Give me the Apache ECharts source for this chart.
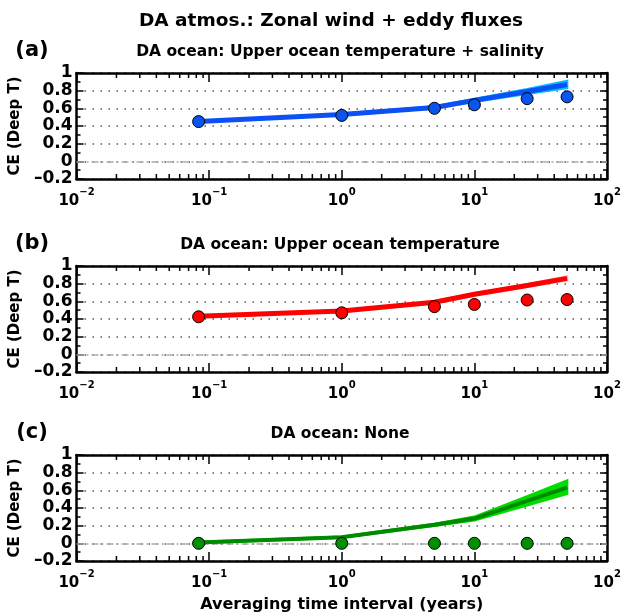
<!DOCTYPE html>
<html><head><meta charset="utf-8">
<script src="https://cdn.jsdelivr.net/npm/echarts@6/dist/echarts.min.js"></script>
<style>html,body{margin:0;padding:0;background:#fff}#c{width:624px;height:616px}</style>
</head><body><div id="c"></div>
<script>
// ---- data ----
const xVals = [1/12, 1, 5, 10, 25, 50];           // averaging interval (years)
const ptsA  = [0.45, 0.52, 0.60, 0.64, 0.71, 0.73];
const meanA = [0.45, 0.53, 0.61, 0.69, 0.79, 0.87];
const loA   = [0.445, 0.525, 0.60, 0.675, 0.765, 0.83];
const hiA   = [0.455, 0.535, 0.62, 0.705, 0.815, 0.91];
const ptsB  = [0.425, 0.47, 0.54, 0.565, 0.615, 0.62];
const meanB = [0.43, 0.49, 0.59, 0.68, 0.78, 0.86];
const loB   = [0.425, 0.485, 0.58, 0.67, 0.765, 0.84];
const hiB   = [0.435, 0.495, 0.60, 0.69, 0.795, 0.88];
const ptsC  = [0.0, 0.0, 0.0, 0.0, 0.0, 0.0];
const meanC = [0.01, 0.07, 0.21, 0.28, 0.48, 0.63];
const loC   = [0.005, 0.065, 0.20, 0.26, 0.43, 0.56];
const hiC   = [0.015, 0.075, 0.22, 0.30, 0.53, 0.71];
const minorXTicks = [];
[-2, -1, 0, 1].forEach(e => { for (let k = 2; k <= 9; k++) minorXTicks.push(k * Math.pow(10, e)); });
const panelLetters = ['(a)', '(b)', '(c)'];
const panelTitles = ['DA ocean: Upper ocean temperature + salinity', 'DA ocean: Upper ocean temperature', 'DA ocean: None'];
const mainTitle = 'DA atmos.: Zonal wind + eddy fluxes';
const xName = 'Averaging time interval (years)';
const yName = 'CE (Deep T)';
const Y_MIN = -0.2, Y_MAX = 1;

// ---- layout/style ----
const FONT = '"DejaVu Sans", "Liberation Sans", sans-serif';
const panels = [
  { top: 73,  pts: ptsA, mean: meanA, lo: loA, hi: hiA, line: '#0a50f5', band: '#00c0ff', pt: '#0a55f0' },
  { top: 266, pts: ptsB, mean: meanB, lo: loB, hi: hiB, line: '#ff0000', band: '#ffb4b4', pt: '#ff0000' },
  { top: 455, pts: ptsC, mean: meanC, lo: loC, hi: hiC, line: '#008a00', band: '#00dc00', pt: '#009000' }
];
const GL = 76, GW = 531, GH = 106;

const grids = [], xAxes = [], yAxes = [], series = [], graphics = [];
function yFmt(v) {
  const r = Math.round(v * 10) / 10;
  if (r === 0) return '0';
  if (r < 0) return '\u2013' + String(-r);
  return String(r);
}
function xFmt(v) {
  const e = Math.round(Math.log10(v));
  return '{b|10}{s|' + (e < 0 ? '\u2212' : '') + Math.abs(e) + '}';
}
panels.forEach((p, i) => {
  grids.push({ left: GL, top: p.top, width: GW, height: GH, show: false });
  const xCommon = {
    type: 'log', logBase: 10, min: 0.01, max: 100, gridIndex: i,
    axisLine: { show: true, onZero: false, lineStyle: { color: '#000', width: 2.5 } },
    axisTick: { show: true, inside: true, length: 9, lineStyle: { color: '#000', width: 1.5 } },
    splitLine: { show: false }, minorTick: { show: false }
  };
  xAxes.push(Object.assign({}, xCommon, {
    position: 'bottom',
    axisLabel: { show: true, margin: 8, formatter: xFmt,
      rich: { b: { fontFamily: FONT, fontWeight: 'bold', fontSize: 15, color: '#000', verticalAlign: 'bottom', lineHeight: 22 },
              s: { fontFamily: FONT, fontWeight: 'bold', fontSize: 10, color: '#000', verticalAlign: 'top', lineHeight: 22, padding: [0, 0, 9, 0] } } },
    name: i === 2 ? xName : '', nameLocation: 'middle', nameGap: 36,
    nameTextStyle: { fontFamily: FONT, fontWeight: 'bold', fontSize: 16, color: '#000' }
  }));
  xAxes.push(Object.assign({}, xCommon, { position: 'top', axisLabel: { show: false } }));
  const yCommon = {
    type: 'value', min: Y_MIN, max: Y_MAX, interval: 0.2, gridIndex: i,
    axisLine: { show: true, lineStyle: { color: '#000', width: 2.5 } },
    axisTick: { show: true, inside: true, length: 7, lineStyle: { color: '#000', width: 1.5 } },
    minorTick: { show: true, splitNumber: 2, length: 4, lineStyle: { color: '#000', width: 1.5 } }
  };
  yAxes.push(Object.assign({}, yCommon, {
    position: 'left',
    axisLabel: { show: true, margin: 4, formatter: yFmt, fontFamily: FONT, fontWeight: 'bold', fontSize: 17, color: '#000' },
    splitLine: { show: true, lineStyle: { color: '#555', width: 1.5, type: [1.5, 6.5] } },
    name: yName, nameLocation: 'middle', nameGap: 50,
    nameTextStyle: { fontFamily: FONT, fontWeight: 'bold', fontSize: 15, color: '#000' }
  }));
  yAxes.push(Object.assign({}, yCommon, { position: 'right', axisLabel: { show: false }, splitLine: { show: false } }));

  const xi = 2 * i, yi = 2 * i;
  // minor log ticks (top and bottom)
  series.push({
    type: 'custom', xAxisIndex: xi, yAxisIndex: yi, silent: true, z: 5,
    data: minorXTicks.map(v => [v]),
    renderItem: (params, api) => {
      const v = api.value(0);
      const b = api.coord([v, Y_MIN]);
      const t = api.coord([v, Y_MAX]);
      const st = { stroke: '#000', lineWidth: 1.5 };
      return { type: 'group', children: [
        { type: 'line', shape: { x1: b[0], y1: b[1], x2: b[0], y2: b[1] - 5 }, style: st },
        { type: 'line', shape: { x1: t[0], y1: t[1], x2: t[0], y2: t[1] + 5 }, style: st }
      ] };
    }
  });
  // spread band
  series.push({
    type: 'custom', xAxisIndex: xi, yAxisIndex: yi, silent: true, z: 2,
    data: [[0]],
    renderItem: (params, api) => {
      const up = xVals.map((x, k) => api.coord([x, p.hi[k]]));
      const dn = xVals.map((x, k) => api.coord([x, p.lo[k]])).reverse();
      return { type: 'polygon', shape: { points: up.concat(dn) }, style: { fill: p.band, stroke: p.band, lineWidth: 2.5 } };
    }
  });
  // ensemble mean line
  series.push({
    type: 'line', xAxisIndex: xi, yAxisIndex: yi, z: 3, symbol: 'none', silent: true,
    data: xVals.map((x, k) => [x, p.mean[k]]),
    lineStyle: { color: p.line, width: i === 2 ? 4 : 5 }
  });
  // points + zero line
  series.push({
    type: 'scatter', xAxisIndex: xi, yAxisIndex: yi, z: 6, symbolSize: 12,
    data: xVals.map((x, k) => [x, p.pts[k]]),
    itemStyle: { color: p.pt, borderColor: '#000', borderWidth: 1, opacity: 1 },
    markLine: { silent: true, symbol: 'none', label: { show: false }, z: 1,
      lineStyle: { color: '#aaa', width: 1.5, type: [7, 3, 2, 3] }, data: [{ yAxis: 0 }] }
  });

  graphics.push({ type: 'text', x: 32, y: p.top - 22, style: { text: panelLetters[i], font: 'bold 21px ' + FONT, fill: '#000', textAlign: 'center', textVerticalAlign: 'middle' } });
  graphics.push({ type: 'text', x: 340, y: p.top - 21, style: { text: panelTitles[i], font: 'bold 15.5px ' + FONT, fill: '#000', textAlign: 'center', textVerticalAlign: 'middle' } });
});
graphics.push({ type: 'text', x: 331, y: 21, style: { text: mainTitle, font: 'bold 18.5px ' + FONT, fill: '#000', textAlign: 'center', textVerticalAlign: 'middle' } });

const chart = echarts.init(document.getElementById('c'), null, { renderer: 'canvas' });
chart.setOption({
  animation: false, backgroundColor: '#fff',
  grid: grids, xAxis: xAxes, yAxis: yAxes, series: series, graphic: graphics
});
</script></body></html>
